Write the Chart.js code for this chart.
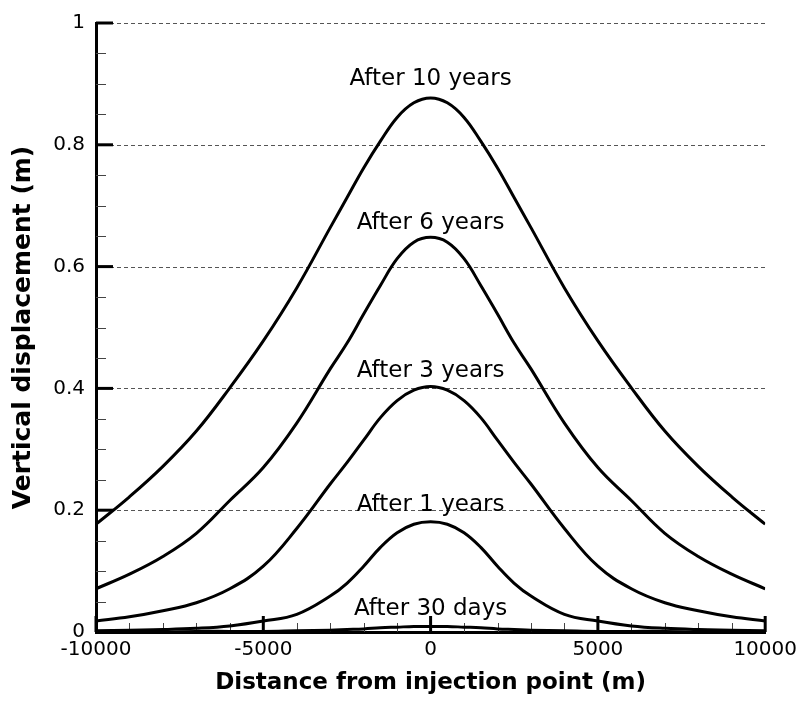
<!DOCTYPE html>
<html>
<head>
<meta charset="utf-8">
<script src="https://cdn.jsdelivr.net/npm/chart.js@4/dist/chart.umd.min.js"></script>
<style>
html,body{margin:0;padding:0;background:#fff;}
#wrap{width:803px;height:701px;}
</style>
</head>
<body>
<div id="wrap"><canvas id="c" width="803" height="701"></canvas></div>
<script>
// ---- data ----
const distances = [-10000,-9000,-8000,-7000,-6000,-5000,-4000,-3000,-2500,-2000,-1500,-1000,-500,0,500,1000,1500,2000,2500,3000,4000,5000,6000,7000,8000,9000,10000];
const after10years = [0.177,0.222,0.272,0.330,0.401,0.478,0.565,0.664,0.713,0.762,0.806,0.845,0.869,0.877,0.869,0.845,0.806,0.762,0.713,0.664,0.565,0.478,0.401,0.330,0.272,0.222,0.177];
const after6years  = [0.071,0.095,0.124,0.162,0.216,0.270,0.343,0.432,0.474,0.522,0.569,0.613,0.640,0.648,0.640,0.613,0.569,0.522,0.474,0.432,0.343,0.270,0.216,0.162,0.124,0.095,0.071];
const after3years  = [0.018,0.025,0.035,0.048,0.071,0.108,0.170,0.243,0.278,0.315,0.352,0.380,0.397,0.403,0.397,0.380,0.352,0.315,0.278,0.243,0.170,0.108,0.071,0.048,0.035,0.025,0.018];
const after1years  = [0.002,0.003,0.004,0.006,0.010,0.018,0.029,0.059,0.080,0.108,0.139,0.163,0.177,0.181,0.177,0.163,0.139,0.108,0.080,0.059,0.029,0.018,0.010,0.006,0.004,0.003,0.002];
const after30days  = [0.000,0.000,0.000,0.001,0.001,0.001,0.002,0.003,0.004,0.005,0.007,0.008,0.009,0.009,0.009,0.008,0.007,0.005,0.004,0.003,0.002,0.001,0.001,0.001,0.000,0.000,0.000];
const seriesNames = ['After 10 years','After 6 years','After 3 years','After 1 years','After 30 days'];
const seriesValues = [after10years, after6years, after3years, after1years, after30days];
// curve label anchor (data coords: x, y of text baseline)
const labelX = [0,0,0,0,0];
const labelY = [0.8985,0.661,0.419,0.199,0.028];
const xMajorTicks = [-10000,-5000,0,5000,10000];
const yMajorTicks = [0,0.2,0.4,0.6,0.8,1];
const xMinorStep = 1000;
const yMinorStep = 0.05;

const FONT = "'DejaVu Sans', 'Liberation Sans', Arial, sans-serif";
Chart.defaults.font.family = FONT;
Chart.defaults.color = '#000';

const decorPlugin = {
  id: 'decor',
  beforeDatasetsDraw(chart) {
    const {ctx, chartArea: a, scales: {x, y}} = chart;
    ctx.save();
    // dashed horizontal grid lines at major y ticks
    ctx.strokeStyle = '#555';
    ctx.lineWidth = 1;
    ctx.setLineDash([4, 3]);
    yMajorTicks.forEach(v => {
      if (v === 0) return;
      const py = Math.round(y.getPixelForValue(v)) + 0.5;
      ctx.beginPath(); ctx.moveTo(a.left, py); ctx.lineTo(a.right, py); ctx.stroke();
    });
    ctx.setLineDash([]);
    // minor ticks
    ctx.strokeStyle = '#444';
    ctx.lineWidth = 1;
    for (let v = x.min; v <= x.max + 1e-6; v += xMinorStep) {
      if (xMajorTicks.includes(v)) continue;
      const px = Math.round(x.getPixelForValue(v)) + 0.5;
      ctx.beginPath(); ctx.moveTo(px, a.bottom); ctx.lineTo(px, a.bottom - 9); ctx.stroke();
    }
    for (let k = 0; k * yMinorStep <= y.max + 1e-9; k++) {
      const v = +(k * yMinorStep).toFixed(4);
      if (yMajorTicks.some(t => Math.abs(t - v) < 1e-9)) continue;
      const py = Math.round(y.getPixelForValue(v)) + 0.5;
      ctx.beginPath(); ctx.moveTo(a.left, py); ctx.lineTo(a.left + 10, py); ctx.stroke();
    }
    // major ticks
    ctx.strokeStyle = '#000';
    ctx.lineWidth = 3;
    xMajorTicks.forEach(v => {
      const px = x.getPixelForValue(v);
      ctx.beginPath(); ctx.moveTo(px, a.bottom); ctx.lineTo(px, a.bottom - 16); ctx.stroke();
    });
    yMajorTicks.forEach(v => {
      const py = y.getPixelForValue(v);
      ctx.beginPath(); ctx.moveTo(a.left, py); ctx.lineTo(a.left + 17, py); ctx.stroke();
    });
    ctx.restore();
  },
  afterDatasetsDraw(chart) {
    const {ctx, scales: {x, y}} = chart;
    ctx.save();
    ctx.fillStyle = '#000';
    ctx.font = '23px ' + FONT;
    ctx.textAlign = 'center';
    ctx.textBaseline = 'alphabetic';
    seriesNames.forEach((name, i) => {
      ctx.fillText(name, x.getPixelForValue(labelX[i]), y.getPixelForValue(labelY[i]));
    });
    ctx.restore();
  }
};

new Chart(document.getElementById('c'), {
  type: 'line',
  data: {
    datasets: seriesNames.map((name, i) => ({
      label: name,
      data: distances.map((d, j) => ({x: d, y: seriesValues[i][j]})),
      borderColor: '#000',
      backgroundColor: '#000',
      borderWidth: 3,
      pointRadius: 0,
      fill: false,
      tension: 0.4
    }))
  },
  options: {
    responsive: false,
    animation: false,
    devicePixelRatio: 1,
    layout: {padding: {left: 0, right: 37, top: 21, bottom: 0}},
    plugins: {legend: {display: false}, tooltip: {enabled: false}},
    scales: {
      x: {
        type: 'linear',
        min: -10000, max: 10000,
        afterFit(s) { s.height = 69; },
        grid: {display: true, drawOnChartArea: false, drawTicks: false},
        border: {display: true, color: '#000', width: 3},
        ticks: {
          stepSize: 5000, padding: 6, maxRotation: 0, autoSkip: false,
          font: {size: 20, family: FONT}, color: '#000',
          callback: v => String(v)
        },
        title: {
          display: true, text: 'Distance from injection point (m)',
          font: {size: 23, weight: 'bold', family: FONT}, color: '#000',
          padding: {top: 0, bottom: 4}
        }
      },
      y: {
        type: 'linear',
        min: 0, max: 1,
        afterFit(s) { s.width = 96; },
        grid: {display: true, drawOnChartArea: false, drawTicks: false},
        border: {display: true, color: '#000', width: 3},
        ticks: {
          stepSize: 0.2, padding: 11,
          font: {size: 20, family: FONT}, color: '#000',
          callback: v => String(+v.toFixed(2))
        },
        title: {
          display: true, text: 'Vertical displacement (m)',
          font: {size: 25, weight: 'bold', family: FONT}, color: '#000',
          padding: {top: 8, bottom: 0}
        }
      }
    }
  },
  plugins: [decorPlugin]
});
</script>
</body>
</html>
